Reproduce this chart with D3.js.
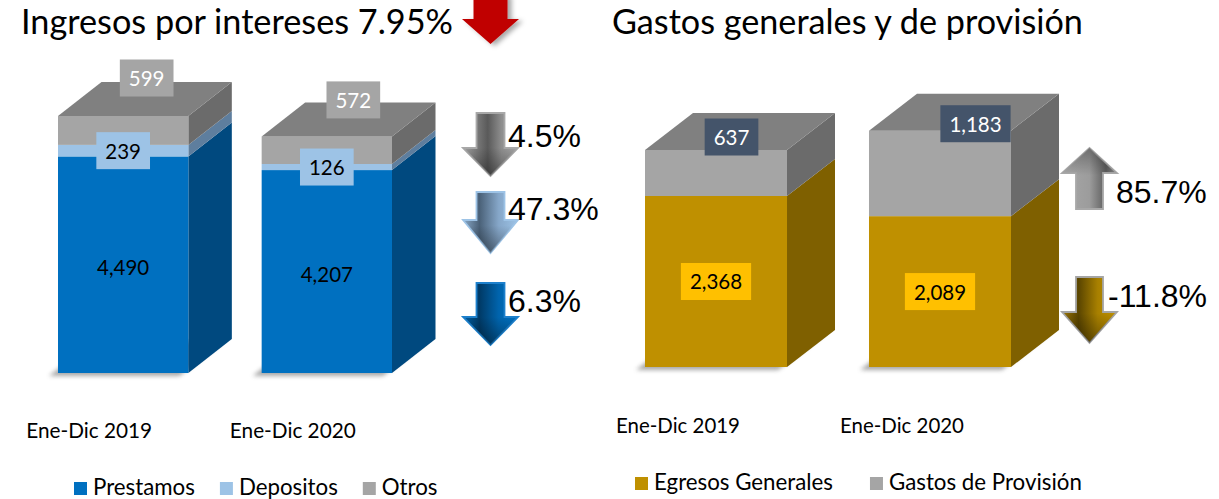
<!DOCTYPE html>
<html><head><meta charset="utf-8">
<script src="https://cdn.jsdelivr.net/npm/d3@7"></script>
<style>body{margin:0;background:#fff}svg{display:block}</style>
</head><body>
<svg id="c" width="1219" height="499"></svg>
<script>
// ---------- data ----------
const categories = ["Ene-Dic 2019", "Ene-Dic 2020"];
const prestamos = [4490, 4207];
const depositos = [239, 126];
const otros = [599, 572];
const egresos = [2368, 2089];
const provision = [637, 1183];
const leftSeries = ["Prestamos", "Depositos", "Otros"];
const rightSeries = ["Egresos Generales", "Gastos de Provisión"];
const leftChanges = ["4.5%", "47.3%", "6.3%"];
const rightChanges = ["85.7%", "-11.8%"];
const leftTitle = "Ingresos por intereses 7.95%";
const rightTitle = "Gastos generales y de provisión";

// ---------- setup ----------
const svg = d3.select("#c");
const defs = svg.append("defs");
const CAL = "Lato, 'Open Sans', sans-serif";
const ARIAL = "'Liberation Sans', Arial, sans-serif";
const fmt = d3.format(",");

defs.append("filter").attr("id", "blur").attr("x", "-20%").attr("y", "-50%").attr("width", "140%").attr("height", "200%")
  .append("feGaussianBlur").attr("stdDeviation", 2.2);
const ds = defs.append("filter").attr("id", "dshadow").attr("x", "-30%").attr("y", "-30%").attr("width", "180%").attr("height", "160%");
ds.append("feDropShadow").attr("dx", 4).attr("dy", 2).attr("stdDeviation", 2.5).attr("flood-color", "#000").attr("flood-opacity", 0.35);

function fitWidth(sel, target) {
  const w = sel.node().getComputedTextLength();
  const fs = parseFloat(sel.attr("font-size"));
  sel.attr("font-size", fs * target / w);
  return fs * target / w;
}

function grad(id, stops, vertical) {
  const g = defs.append("linearGradient").attr("id", id)
    .attr("x1", 0).attr("y1", 0).attr("x2", vertical ? 0 : 1).attr("y2", vertical ? 1 : 0);
  stops.forEach(s => g.append("stop").attr("offset", s[0]).attr("stop-color", s[1]).attr("stop-opacity", s[2] == null ? 1 : s[2]));
  return `url(#${id})`;
}

// ---------- stacked 3D bars ----------
function drawStack(cfg) {
  const g = svg.append("g");
  const { x, y, dx, dy, series } = cfg;
  const bw = x.bandwidth();
  // floor shadows
  categories.forEach((c) => {
    const x0 = x(c), x1 = x0 + bw, y0 = y(0);
    const pts = [[x0, y0], [x1, y0], [x1 + dx, y0 - dy], [x0 + dx, y0 - dy]]
      .map(p => [p[0] - 9, p[1] + 3]);
    g.append("polygon").attr("points", pts.join(" ")).attr("fill", "#8a8a8a")
      .attr("opacity", 0.75).attr("filter", "url(#blur)");
  });
  categories.forEach((c, i) => {
    const x0 = x(c), x1 = x0 + bw;
    let cum = 0;
    series.forEach((s, k) => {
      const v = s.values[i];
      const yb = y(cum), yt = y(cum + v);
      cum += v;
      g.append("polygon")
        .attr("points", [[x1, yb], [x1, yt], [x1 + dx, yt - dy], [x1 + dx, yb - dy]].join(" "))
        .attr("fill", s.side);
      g.append("rect").attr("x", x0).attr("y", yt).attr("width", bw).attr("height", yb - yt)
        .attr("fill", s.front);
      if (k === series.length - 1) {
        g.append("polygon")
          .attr("points", [[x0, yt], [x1, yt], [x1 + dx, yt - dy], [x0 + dx, yt - dy]].join(" "))
          .attr("fill", s.top);
      }
    });
  });
  // data labels
  categories.forEach((c, i) => {
    const x0 = x(c);
    let cum = 0;
    series.forEach((s) => {
      const v = s.values[i];
      const yb = y(cum), yt = y(cum + v);
      cum += v;
      let cx = x0 + bw / 2, cy = (yb + yt) / 2 + (s.labelBg ? 0 : 2);
      if (s.nudge) { cx += s.nudge[i][0]; cy = yt + s.nudge[i][1]; }
      const lg = g.append("g");
      const box = lg.append("rect");
      const t = lg.append("text").attr("x", cx).attr("y", cy).attr("text-anchor", "middle")
        .attr("dominant-baseline", "central").attr("font-family", CAL).attr("font-size", 20.5)
        .attr("fill", s.labelFg).text(fmt(v));
      if (s.labelBg) {
        const w = t.node().getComputedTextLength() + 18;
        box.attr("x", cx - w / 2).attr("y", cy - 18.5).attr("width", w).attr("height", 37).attr("fill", s.labelBg);
      }
    });
  });
  // category labels
  categories.forEach((c) => {
    const t = g.append("text").attr("x", x(c) + bw / 2 + cfg.catShift).attr("y", cfg.catY)
      .attr("text-anchor", "middle").attr("font-family", CAL).attr("font-size", 21).attr("fill", "#000").text(c);
    fitWidth(t, cfg.catWidth);
  });
}

// left chart
const xL = d3.scaleBand().domain(categories).range([58, 392]).paddingInner(0.36).paddingOuter(0);
const yL = d3.scaleLinear().domain([0, 6000]).range([373, 373 - 6000 * 257 / 5328]);
drawStack({
  x: xL, y: yL, dx: 43.5, dy: 34, catShift: -34, catY: 438, catWidth: 126,
  series: [
    { values: prestamos, front: "#0070C0", side: "#00497F", top: "#3a8fd0", labelFg: "#000" },
    { values: depositos, front: "#9DC3E6", side: "#5E7E9E", top: "#8fb2d6", labelFg: "#000", labelBg: "#9DC3E6" },
    { values: otros, front: "#A5A5A5", side: "#6B6B6B", top: "#808080", labelFg: "#fff", labelBg: "#A5A5A5",
      nudge: [[23.5, -38], [26.5, -36.5]] }
  ]
});

// right chart
const xR = d3.scaleBand().domain(categories).range([645, 1011]).paddingInner(0.366).paddingOuter(0);
const yR = d3.scaleLinear().domain([0, 4000]).range([367, 367 - 4000 * 217 / 3005]);
drawStack({
  x: xR, y: yR, dx: 48, dy: 37, catShift: -38, catY: 433, catWidth: 124,
  series: [
    { values: egresos, front: "#BF9000", side: "#7F6000", top: "#a07800", labelFg: "#000", labelBg: "#FFC000" },
    { values: provision, front: "#A5A5A5", side: "#6B6B6B", top: "#808080", labelFg: "#fff", labelBg: "#44546A",
      nudge: [[15.5, -13], [35.5, -7]] }
  ]
});

// ---------- titles ----------
const t1 = svg.append("text").attr("x", 21).attr("y", 34).attr("font-family", CAL).attr("font-size", 32)
  .attr("fill", "#000").text(leftTitle);
fitWidth(t1, 432);
const t2 = svg.append("text").attr("x", 612).attr("y", 34).attr("font-family", CAL).attr("font-size", 32)
  .attr("fill", "#000").text(rightTitle);
fitWidth(t2, 471);

// ---------- arrows ----------
function arrowPath(cx, hh, hs, yStart, yHead, yTip) {
  return `M${cx - hs},${yStart}L${cx + hs},${yStart}L${cx + hs},${yHead}L${cx + hh},${yHead}L${cx},${yTip}L${cx - hh},${yHead}L${cx - hs},${yHead}Z`;
}
const gGray = grad("gGray", [[0, "#a3a3a3"], [0.25, "#7a7a7a"], [0.45, "#5a5a5a"], [0.7, "#8e8e8e"], [1, "#a5a5a5"]]);
const gGrayUp = grad("gGrayUp", [[0, "#a8a8a8"], [0.5, "#9c9c9c"], [0.8, "#5c5c5c"], [1, "#8a8a8a"]]);
const gLBlue = grad("gLBlue", [[0, "#8aa9c8"], [0.3, "#4a6178"], [0.65, "#86a7c9"], [1, "#9DC3E6"]]);
const gBlue = grad("gBlue", [[0, "#0062a8"], [0.3, "#003a66"], [0.65, "#0064ad"], [1, "#0070C0"]]);
const gGold = grad("gGold", [[0, "#9a7508"], [0.3, "#5a4500"], [0.65, "#a88000"], [1, "#BF9000"]]);
const gDarkTip = grad("gDarkTip", [[0, "#000", 0], [0.55, "#000", 0], [1, "#000", 0.35]], true);
const gDarkTop = grad("gDarkTop", [[0, "#000", 0.3], [0.45, "#000", 0], [1, "#000", 0]], true);

function drawArrow(d, fill, stroke, overlay) {
  const g = svg.append("g");
  g.append("path").attr("d", d).attr("fill", fill).attr("stroke", stroke).attr("stroke-width", 1.8).attr("stroke-linejoin", "miter");
  if (overlay) g.append("path").attr("d", d).attr("fill", overlay);
}
// red title arrow
svg.append("path").attr("d", arrowPath(490.5, 28.5, 17, -6, 19, 44)).attr("fill", "#C00000").attr("filter", "url(#dshadow)");

const aL = { cx: 490.5, hh: 27.5, hs: 14 };
drawArrow(arrowPath(aL.cx, aL.hh, aL.hs, 113, 148, 176), gGray, "#a8a8a8", gDarkTip);
drawArrow(arrowPath(aL.cx, aL.hh, aL.hs, 192, 220, 253), gLBlue, "#9DC3E6", gDarkTip);
drawArrow(arrowPath(aL.cx, aL.hh, aL.hs, 283, 317, 345), gBlue, "#1d80cc", gDarkTip);

const aR = { cx: 1089.5, hh: 27.5, hs: 13.5 };
drawArrow(arrowPath(aR.cx, aR.hh, aR.hs, 209, 173, 148), gGrayUp, "#a8a8a8", gDarkTop);
drawArrow(arrowPath(aR.cx, aR.hh, aR.hs, 277, 312, 343), gGold, "#a5a5a5", gDarkTip);

// percentages
const pctL = [147, 220, 312];
leftChanges.forEach((p, i) => svg.append("text").attr("x", 508).attr("y", pctL[i]).attr("font-family", ARIAL)
  .attr("font-size", 32).attr("fill", "#000").text(p));
const pctR = [[1116, 203], [1108, 307]];
rightChanges.forEach((p, i) => svg.append("text").attr("x", pctR[i][0]).attr("y", pctR[i][1]).attr("font-family", ARIAL)
  .attr("font-size", 32).attr("fill", "#000").text(p));

// ---------- legends ----------
function legend(names, colors, x0, baseline, fs, gap) {
  let x = x0;
  names.forEach((n, i) => {
    svg.append("rect").attr("x", x).attr("y", baseline - 13).attr("width", 13).attr("height", 13).attr("fill", colors[i]);
    const t = svg.append("text").attr("x", x + 19).attr("y", baseline).attr("font-family", CAL)
      .attr("font-size", fs).attr("fill", "#000").text(n);
    x = x + 19 + t.node().getComputedTextLength() + gap;
  });
}
const probe = svg.append("text").attr("font-family", CAL).attr("font-size", 20).text(leftSeries[0]);
const lfs = fitWidth(probe, 102);
probe.remove();
legend(leftSeries, ["#0070C0", "#9DC3E6", "#A5A5A5"], 74, 495, lfs, 25);
legend(rightSeries, ["#BF9000", "#A5A5A5"], 635, 490, lfs, 37);
</script>
</body></html>
